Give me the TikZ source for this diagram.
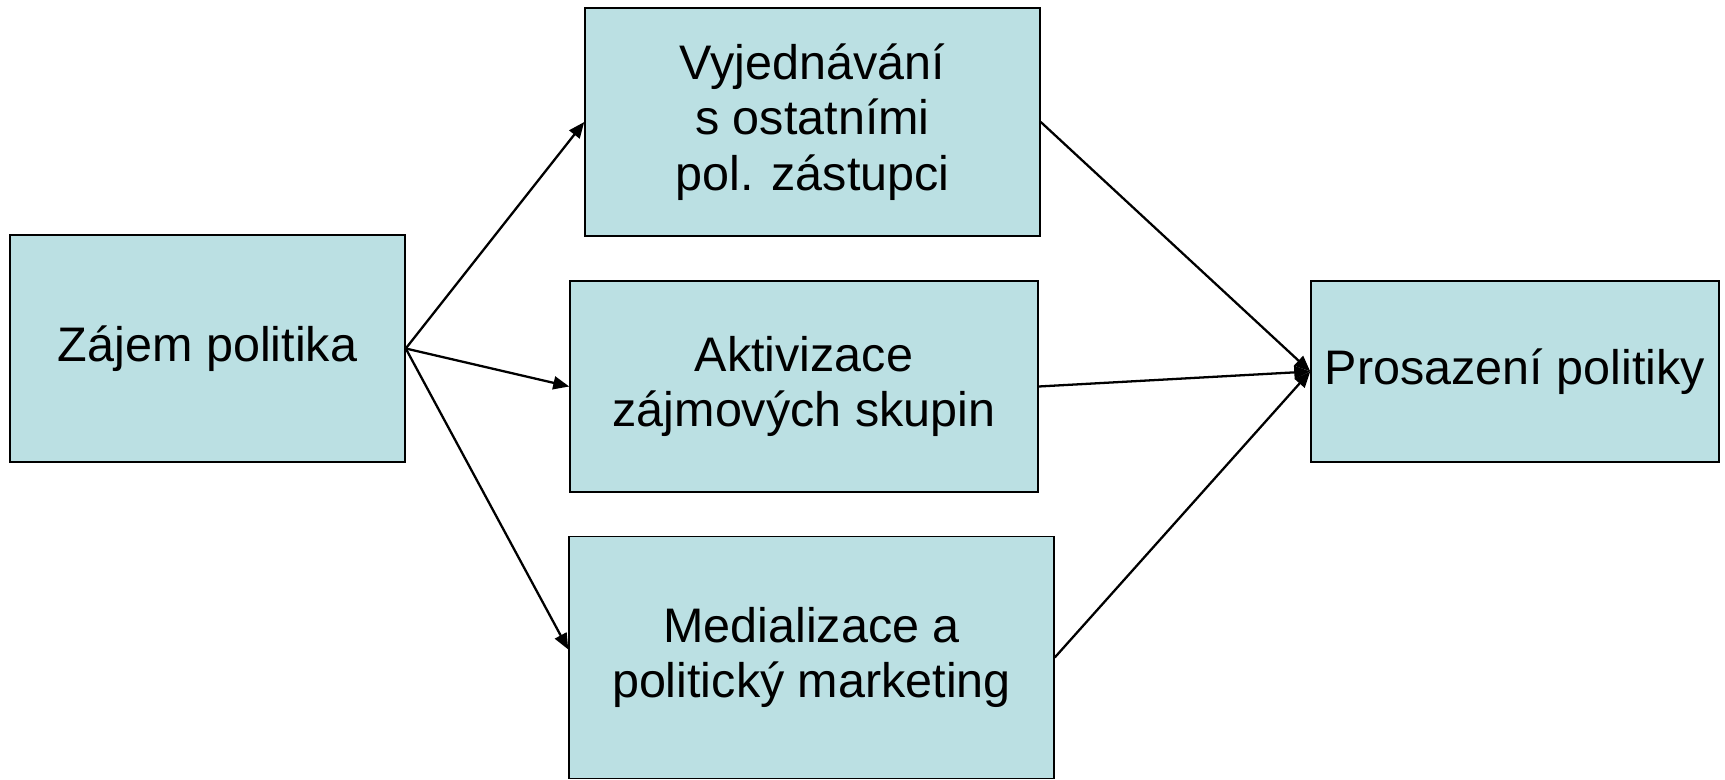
\documentclass[tikz,border=0pt]{standalone}
\usepackage{fontspec}
\setmainfont{Liberation Sans}
\usepackage{tikz}
\usetikzlibrary{arrows.meta, positioning}

\definecolor{boxfill}{RGB}{187,224,227}

\begin{document}
\begin{tikzpicture}[
        box/.style={draw, fill=boxfill, line width=0.85pt, inner sep=0pt,
            align=center, font=\fontsize{27.6}{31.5}\selectfont},
        arr/.style={-{Triangle[length=0.32cm, width=0.26cm]}, line width=1.3pt}
    ]
        \useasboundingbox (0,0) rectangle (34.5,-15.6);

        % nodes
        \node[box, minimum width=7.9cm, minimum height=4.54cm] (zajem) at (4.15,-6.97) {Zájem politika};
        \node[box, minimum width=9.1cm, minimum height=4.56cm] (vyjed) at (16.25,-2.44) {Vyjednávání\\ s ostatními\\ pol. zástupci};
        \node[box, minimum width=9.36cm, minimum height=4.22cm] (aktiv) at (16.08,-7.73) {Aktivizace\\ zájmových skupin};
        \node[box, minimum width=9.7cm, minimum height=4.84cm] (medial) at (16.23,-13.15) {Medializace a\\ politický marketing};
        \node[box, minimum width=8.16cm, minimum height=3.62cm] (prosaz) at (30.3,-7.43) {Prosazení politiky};

        % edges
        \draw[arr] (zajem.east) -- (vyjed.west);
        \draw[arr] (zajem.east) -- (aktiv.west);
        \draw[arr] (zajem.east) -- ([yshift=0.16cm]medial.west);

        \draw[arr] (vyjed.east) -- (prosaz.west);
        \draw[arr] (aktiv.east) -- (prosaz.west);
        \draw[arr] (medial.east) -- (prosaz.west);

    \end{tikzpicture}
\end{document}
